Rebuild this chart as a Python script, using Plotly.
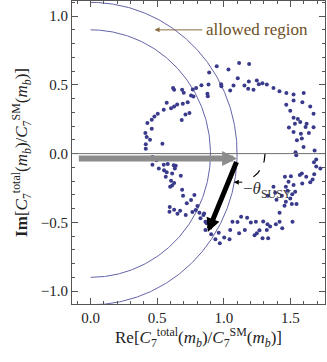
import numpy as np
import plotly.graph_objects as go

# scatter points (Re, Im)
re_pts = [1.115, 1.19, 1.035, 0.89, 0.947, 1.105, 1.188, 1.248, 1.29, 1.323,
          1.373, 1.418, 1.47, 1.524, 1.6, 1.59, 1.524, 1.469, 1.263, 1.155,
          1.183, 1.223, 1.048, 1.073, 0.98, 0.885, 0.832, 0.792, 0.767, 0.699,
          0.627, 0.619, 0.687, 0.754, 0.88, 0.877, 0.982,
          0.571, 0.549, 0.504, 0.479, 0.459, 0.426, 0.459, 0.411, 0.421, 0.446,
          0.414, 0.414, 0.539, 0.604, 0.627, 0.65, 0.692, 0.729, 0.712, 0.684,
          0.742, 0.772,
          1.622, 1.524, 1.556, 1.574, 1.614, 1.534, 1.489, 1.524, 1.579, 1.586,
          1.549, 1.599, 1.674, 1.639, 1.682, 1.539, 1.544, 1.674, 1.649, 1.499,
          1.694, 1.677, 1.725, 1.694, 1.679, 1.667, 1.649, 1.586, 1.571, 1.619,
          1.589, 1.524, 1.536, 1.514, 1.479, 1.499, 1.511, 1.546, 1.436, 1.466,
          1.396, 1.386, 1.373, 1.331, 1.456, 1.516, 1.419, 1.419, 1.439, 1.391,
          1.348, 1.328, 1.323, 1.296, 1.268, 1.241, 1.203, 1.175, 1.13, 1.158,
          1.115, 1.103, 1.065, 1.048, 1.043, 1.003, 0.97, 0.937, 0.962, 0.905,
          0.862, 0.872, 1.291, 1.333, 1.231, 1.248,
          0.464, 0.494, 0.464, 0.512, 0.551, 0.571, 0.564, 0.604, 0.612, 0.597,
          0.627, 0.687, 0.694, 0.639, 0.632, 0.612, 0.677, 0.624, 0.579, 0.549,
          0.779, 0.802, 0.722, 0.754, 0.764, 0.672, 0.627, 0.594, 0.592, 0.652,
          0.714, 0.789, 0.817, 0.847, 0.825, 0.862, 0.852,
          1.459, 1.504, 1.466, 1.486]
im_pts = [0.659, 0.652, 0.611, 0.59, 0.635, 0.548, 0.524, 0.531, 0.512, 0.502,
          0.478, 0.454, 0.44, 0.43, 0.44, 0.374, 0.386, 0.355, 0.505, 0.496,
          0.471, 0.464, 0.459, 0.495, 0.505, 0.502, 0.498, 0.478, 0.466, 0.442,
          0.464, 0.478, 0.464, 0.423, 0.418, 0.435, 0.49,
          0.37, 0.319, 0.29, 0.27, 0.246, 0.222, 0.181, 0.15, 0.121, 0.101,
          0.068, 0.036, 0.072, 0.329, 0.343, 0.357, 0.362, 0.374, 0.285, 0.244,
          0.295, 0.415,
          0.217, 0.261, 0.251, 0.229, 0.193, 0.217, 0.19, 0.157, 0.145, 0.109,
          0.097, 0.048, 0.191, 0.15, 0.022, 0.01, -0.012, 0.29, 0.343, 0.312,
          -0.043, -0.063, -0.109, -0.094, -0.15, -0.188, -0.208, -0.145, -0.155, -0.169,
          -0.217, -0.229, -0.278, -0.295, -0.271, -0.326, -0.367, -0.367, -0.307, -0.35,
          -0.336, -0.285, -0.242, -0.307, -0.379, -0.495, -0.43, -0.495, -0.543, -0.514,
          -0.531, -0.514, -0.556, -0.493, -0.558, -0.495, -0.502, -0.466, -0.459, -0.556,
          -0.58, -0.498, -0.495, -0.556, -0.623, -0.611, -0.652, -0.623, -0.575, -0.587,
          -0.556, -0.507, -0.616, -0.616, -0.594, -0.58,
          -0.024, -0.048, -0.082, -0.109, -0.121, -0.135, -0.169, -0.198, -0.232, -0.242,
          -0.213, -0.263, -0.307, -0.089, -0.109, -0.145, -0.162, -0.085, -0.075, -0.082,
          -0.302, -0.382, -0.362, -0.338, -0.425, -0.415, -0.408, -0.389, -0.423, -0.437,
          -0.447, -0.411, -0.43, -0.447, -0.471, -0.495, -0.435,
          -0.169, -0.164, -0.242, -0.205]

# allowed-region radii
radii = [0.9, 1.1]

# arrows: (x_start, y_start, x_end, y_end)
sm_arrow = (-0.1, -0.035, 1.1, -0.035)
susy_arrow = (1.1, -0.05, 0.88, -0.57)

# theta arc
arc_center = (1.1, 0.0)
arc_radius = 0.21
arc_angles = (0.0, -58.0)

serif = "Liberation Serif"
circle_col = "#6464a8"
dot_col = "#3a3a8c"
title_font = dict(family=serif, size=17, color="#222222")

fig = go.Figure()

t = np.linspace(-np.pi / 2, np.pi / 2, 300)
for r in radii:
    fig.add_trace(go.Scatter(x=r * np.cos(t), y=r * np.sin(t), mode="lines",
                             line=dict(color=circle_col, width=1), hoverinfo="skip"))

fig.add_trace(go.Scatter(x=re_pts, y=im_pts, mode="markers",
                         marker=dict(color=dot_col, size=4)))

a = np.radians(np.linspace(arc_angles[0], arc_angles[1], 50))
fig.add_trace(go.Scatter(x=arc_center[0] + arc_radius * np.cos(a),
                         y=arc_center[1] + arc_radius * np.sin(a),
                         mode="lines", line=dict(color="black", width=1.2, dash="dash")))

fig.add_hline(y=0, line=dict(color="#707070", width=1))

fig.add_annotation(x=sm_arrow[2], y=sm_arrow[3], ax=sm_arrow[0], ay=sm_arrow[1],
                   xref="x", yref="y", axref="x", ayref="y", text="",
                   showarrow=True, arrowhead=2, arrowsize=0.5, arrowwidth=6,
                   arrowcolor="#8c8c8c")
fig.add_annotation(x=susy_arrow[2], y=susy_arrow[3], ax=susy_arrow[0], ay=susy_arrow[1],
                   xref="x", yref="y", axref="x", ayref="y", text="",
                   showarrow=True, arrowhead=2, arrowsize=0.55, arrowwidth=5,
                   arrowcolor="black")

# allowed region label
fig.add_annotation(x=0.48, y=0.90, ax=0.85, ay=0.90, xref="x", yref="y",
                   axref="x", ayref="y", text="", showarrow=True, arrowhead=2,
                   arrowsize=1, arrowwidth=1, arrowcolor="#8a6d45")
fig.add_annotation(x=0.85, y=0.90, text="allowed region", showarrow=False,
                   xanchor="left", font=dict(family=serif, size=17, color="#6e5027"))

# theta label
fig.add_annotation(x=1.075, y=-0.208, ax=1.15, ay=-0.208, xref="x", yref="y",
                   axref="x", ayref="y", text="", showarrow=True, arrowhead=2,
                   arrowsize=1, arrowwidth=1, arrowcolor="black")
fig.add_annotation(x=1.13, y=-0.265, text="−<i>θ</i><sub>SUSY</sub>", showarrow=False,
                   xanchor="left", font=dict(family=serif, size=17, color="#333333"))

# axis titles
fig.add_annotation(x=0.5, y=-0.11, xref="paper", yref="paper", showarrow=False,
                   yanchor="middle", font=title_font,
                   text="Re[<i>C</i><sub>7</sub><sup>total</sup>(<i>m<sub>b</sub></i>)/"
                        "<i>C</i><sub>7</sub><sup>SM</sup>(<i>m<sub>b</sub></i>)]")
fig.add_annotation(x=-0.2, y=0.5, xref="paper", yref="paper", showarrow=False,
                   xanchor="center", textangle=-90, font=title_font,
                   text="<b>Im</b>[<i>C</i><sub>7</sub><sup>total</sup>(<i>m<sub>b</sub></i>)/"
                        "<i>C</i><sub>7</sub><sup>SM</sup>(<i>m<sub>b</sub></i>)]")

axis_common = dict(showgrid=False, zeroline=False, showline=True, linecolor="#555555",
                   linewidth=1, mirror="ticks", ticks="inside", ticklen=6,
                   tickcolor="#555555", automargin=False,
                   tickfont=dict(family=serif, size=15, color="#222222"),
                   minor=dict(ticks="inside", ticklen=3, dtick=0.1, tickcolor="#555555",
                              showgrid=False))

fig.update_xaxes(range=[-0.14, 1.76], tickvals=[0, 0.5, 1.0, 1.5],
                 ticktext=["0.0", "0.5", "1.0", "1.5"], **axis_common)
fig.update_yaxes(range=[-1.094, 1.11], tickvals=[-1.0, -0.5, 0, 0.5, 1.0],
                 ticktext=["−1.0", "−0.5", "0.0", "0.5", "1.0"], **axis_common)

fig.update_layout(width=327, height=362, margin=dict(l=72, r=2, t=1, b=58),
                  plot_bgcolor="white", paper_bgcolor="white", showlegend=False)

# drop the browser's default page margin so the figure sits at the corner
fig.write_html("out.html", config={"displayModeBar": False},
               post_script="document.body.style.margin='0';"
                           "document.body.style.overflow='hidden';")
